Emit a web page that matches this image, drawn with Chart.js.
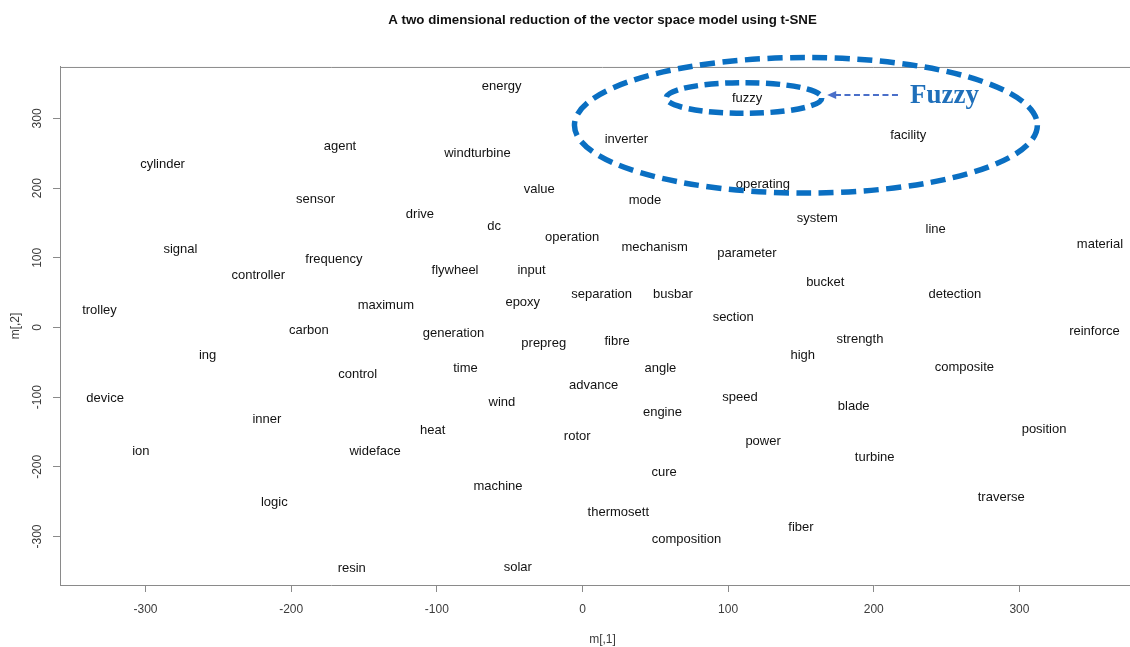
<!DOCTYPE html>
<html>
<head>
<meta charset="utf-8">
<script src="https://cdn.jsdelivr.net/npm/chart.js@4.4.1/dist/chart.umd.min.js"></script>
<style>
  html, body { margin: 0; padding: 0; overflow: hidden; background: #ffffff; }
  #wrap { width: 1145px; height: 647px; }
</style>
</head>
<body>
<div id="wrap"><canvas id="tsne" width="1145" height="647"></canvas></div>
<script>
// Terms and their 2-D t-SNE coordinates (m[,1], m[,2])
const terms = [
  'energy', 'fuzzy', 'inverter', 'facility', 'agent', 'windturbine', 'cylinder', 'value',
  'operating', 'sensor', 'mode', 'drive', 'system', 'dc', 'line', 'operation',
  'mechanism', 'signal', 'material', 'parameter', 'frequency', 'controller', 'flywheel', 'input',
  'bucket', 'separation', 'busbar', 'detection', 'epoxy', 'maximum', 'trolley', 'section',
  'carbon', 'generation', 'reinforce', 'strength', 'fibre', 'prepreg', 'ing', 'high',
  'composite', 'angle', 'time', 'control', 'advance', 'speed', 'device', 'wind',
  'blade', 'engine', 'inner', 'position', 'heat', 'rotor', 'power', 'wideface',
  'ion', 'turbine', 'cure', 'machine', 'traverse', 'logic', 'thermosett', 'fiber',
  'composition', 'solar', 'resin'
];
const dim1 = [
  -55.5, 113.0, 30.1, 223.7, -166.5, -72.1, -288.3, -29.7,
  123.9, -183.2, 42.9, -111.6, 161.2, -60.6, 242.5, -7.1,
  49.6, -276.0, 355.3, 112.9, -170.7, -222.6, -87.5, -35.0,
  166.7, 13.2, 62.1, 255.7, -41.0, -135.0, -331.6, 103.5,
  -187.9, -88.6, 351.5, 190.5, 23.8, -26.6, -257.4, 151.2,
  262.2, 53.5, -80.3, -154.3, 7.6, 108.1, -327.7, -55.3,
  186.2, 54.9, -216.7, 316.9, -102.8, -3.6, 124.0, -142.4,
  -303.2, 200.6, 56.1, -58.0, 287.5, -211.6, 24.6, 150.0,
  71.4, -44.4, -158.4
];
const dim2 = [
  347.6, 331.3, 272.5, 277.3, 262.4, 251.9, 236.5, 200.7,
  207.0, 185.9, 184.4, 164.3, 159.0, 146.7, 142.4, 131.3,
  117.4, 114.1, 120.9, 108.4, 99.8, 76.4, 84.4, 83.5,
  66.7, 49.9, 49.9, 49.9, 37.6, 34.2, 26.1, 16.5,
  -2.6, -6.9, -3.6, -14.6, -18.4, -20.8, -38.5, -38.0,
  -55.3, -56.3, -56.7, -64.9, -81.5, -98.8, -99.8, -105.9,
  -111.2, -119.9, -129.5, -143.8, -146.1, -153.9, -161.5, -175.4,
  -175.8, -184.0, -205.5, -225.6, -241.4, -249.0, -263.8, -284.9,
  -302.6, -342.3, -344.2
];

// Axis ticks and limits
const xTicks = [-300, -200, -100, 0, 100, 200, 300];
const yTicks = [-300, -200, -100, 0, 100, 200, 300];
const xLimits = [-358.7, 386.2];
const yLimits = [-369.6, 373.9];

// Highlight of the "fuzzy" neighbourhood, in data coordinates
const fuzzyOuter = { cx: 153.4, cy: 290.2, rx: 158.9, ry: 97.3 };
const fuzzyInner = { cx: 110.9, cy: 329.4, rx: 53.4, ry: 22.0 };
const fuzzyArrow = { from: 216.6, to: 168.0, y: 333.7 };
const fuzzyNote = { text: 'Fuzzy', x: 224.8, y: 321.5 };

const SANS = '"Liberation Sans", Arial, Helvetica, sans-serif';
const FRAME = '#8a8a8a';

// Draws every term as centred text at its point
const termLabels = {
  id: 'termLabels',
  afterDatasetsDraw(chart) {
    const { ctx } = chart;
    const meta = chart.getDatasetMeta(0);
    ctx.save();
    ctx.font = '13px ' + SANS;
    ctx.fillStyle = '#121212';
    ctx.textAlign = 'center';
    ctx.textBaseline = 'middle';
    // glyph boxes sit slightly below the em-box middle
    meta.data.forEach((pt, i) => ctx.fillText(terms[i], pt.x, pt.y + 1.5));
    ctx.restore();
  }
};

// Top edge of the plot box
const topFrame = {
  id: 'topFrame',
  afterDraw(chart) {
    const { ctx, chartArea } = chart;
    ctx.save();
    ctx.strokeStyle = FRAME;
    ctx.lineWidth = 1;
    ctx.beginPath();
    ctx.moveTo(chartArea.left, chartArea.top + 0.5);
    ctx.lineTo(chartArea.right, chartArea.top + 0.5);
    ctx.stroke();
    ctx.restore();
  }
};

// Dashed ellipses, arrow and caption around the fuzzy cluster
const fuzzyHighlight = {
  id: 'fuzzyHighlight',
  afterDraw(chart) {
    const { ctx } = chart;
    const sx = chart.scales.x, sy = chart.scales.y;
    const ell = (e) => {
      const cx = sx.getPixelForValue(e.cx), cy = sy.getPixelForValue(e.cy);
      const rx = Math.abs(sx.getPixelForValue(e.cx + e.rx) - cx);
      const ry = Math.abs(sy.getPixelForValue(e.cy + e.ry) - cy);
      ctx.beginPath();
      ctx.ellipse(cx, cy, rx, ry, 0, 0, Math.PI * 2);
      ctx.stroke();
    };
    ctx.save();
    ctx.strokeStyle = '#0a6fc2';
    ctx.lineWidth = 5.5;
    ctx.setLineDash([15, 7.5]);
    ell(fuzzyOuter);
    ctx.setLineDash([14, 6.5]);
    ell(fuzzyInner);

    const ax0 = sx.getPixelForValue(fuzzyArrow.from);
    const ax1 = sx.getPixelForValue(fuzzyArrow.to);
    const ay = sy.getPixelForValue(fuzzyArrow.y);
    ctx.strokeStyle = '#4a6fc9';
    ctx.fillStyle = '#4a6fc9';
    ctx.lineWidth = 2;
    ctx.setLineDash([6, 3.5]);
    ctx.beginPath();
    ctx.moveTo(ax0, ay);
    ctx.lineTo(ax1 + 7, ay);
    ctx.stroke();
    ctx.setLineDash([]);
    ctx.beginPath();
    ctx.moveTo(ax1, ay);
    ctx.lineTo(ax1 + 9, ay - 4);
    ctx.lineTo(ax1 + 9, ay + 4);
    ctx.closePath();
    ctx.fill();

    ctx.font = 'bold 27px "Liberation Serif", "Times New Roman", serif';
    ctx.fillStyle = '#1f6fba';
    ctx.textAlign = 'left';
    ctx.textBaseline = 'alphabetic';
    ctx.fillText(fuzzyNote.text, sx.getPixelForValue(fuzzyNote.x), sy.getPixelForValue(fuzzyNote.y));
    ctx.restore();
  }
};

const points = terms.map((t, i) => ({ x: dim1[i], y: dim2[i] }));

new Chart(document.getElementById('tsne'), {
  type: 'scatter',
  data: {
    datasets: [{
      label: 'terms',
      data: points,
      pointRadius: 0,
      pointHoverRadius: 0,
      showLine: false
    }]
  },
  options: {
    responsive: false,
    animation: false,
    events: [],
    layout: { padding: 0 },
    plugins: {
      legend: { display: false },
      tooltip: { enabled: false },
      title: {
        display: true,
        fullSize: false,
        text: 'A two dimensional reduction of the vector space model using t-SNE',
        color: '#111111',
        font: { family: SANS, size: 13.3, weight: 'bold', lineHeight: 1.2 },
        padding: { top: 12, bottom: 39 }
      }
    },
    scales: {
      x: {
        type: 'linear',
        position: 'bottom',
        min: xLimits[0],
        max: xLimits[1],
        afterBuildTicks: (s) => { s.ticks = xTicks.map(v => ({ value: v })); },
        afterFit: (s) => { s.height = 62; },
        grid: { display: true, drawOnChartArea: false, drawTicks: true, tickLength: 7, color: FRAME, lineWidth: 1 },
        border: { display: true, color: FRAME, width: 1 },
        ticks: { color: '#3c3c3c', font: { family: SANS, size: 12 }, padding: 10, maxRotation: 0, autoSkip: false },
        title: { display: true, text: 'm[,1]', color: '#3c3c3c', font: { family: SANS, size: 12 }, padding: { top: 0, bottom: 0 } }
      },
      y: {
        type: 'linear',
        position: 'left',
        min: yLimits[0],
        max: yLimits[1],
        afterBuildTicks: (s) => { s.ticks = yTicks.map(v => ({ value: v })); },
        afterFit: (s) => { s.width = 60; },
        grid: { display: true, drawOnChartArea: false, drawTicks: true, tickLength: 7, color: FRAME, lineWidth: 1 },
        border: { display: true, color: FRAME, width: 1 },
        ticks: { color: '#3c3c3c', font: { family: SANS, size: 12 }, padding: 3.5, minRotation: 90, maxRotation: 90, crossAlign: 'center', autoSkip: false },
        title: { display: true, text: 'm[,2]', color: '#3c3c3c', font: { family: SANS, size: 12 }, padding: { top: 8, bottom: 0 } }
      }
    }
  },
  plugins: [termLabels, topFrame, fuzzyHighlight]
});
</script>
</body>
</html>
